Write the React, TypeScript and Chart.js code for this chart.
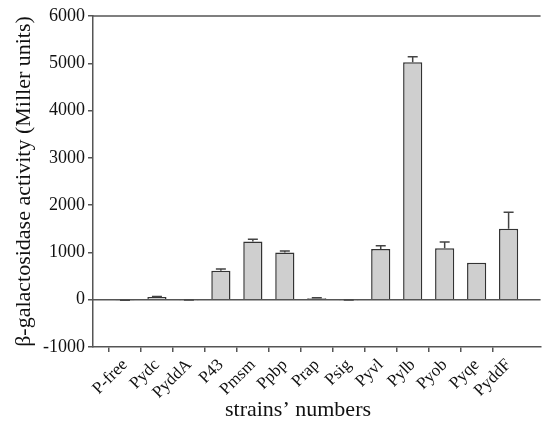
import React, { useEffect, useRef } from "react";
import { Chart, registerables } from "chart.js";
Chart.register(...registerables);

const strains = ["P-free", "Pydc", "PyddA", "P43", "Pmsm", "Ppbp", "Prap", "Psig", "Pyvl", "Pylb", "Pyob", "Pyqe", "PyddF"];
const activity = [-20, 55, -10, 610, 1230, 1000, 30, -10, 1070, 5020, 1090, 780, 1500];
const errors = [10, 15, 5, 40, 50, 30, 10, 5, 70, 120, 130, 0, 350];
const yTickValues = [-1000, 0, 1000, 2000, 3000, 4000, 5000, 6000];
const yTitle = "β-galactosidase activity (Miller units)";
const xTitle = "strains’ numbers";

const labels = ["", ...strains, ""];
const values: (number | null)[] = [null, ...activity, null];
const errs: (number | null)[] = [null, ...errors, null];

const AXIS = "#555";
const FONT = "'Liberation Serif', 'Times New Roman', serif";

const decor = {
  id: "decor",
  beforeDatasetsDraw(chart: any) {
    const { ctx, chartArea, scales } = chart;
    const y = scales.y;
    ctx.save();
    ctx.strokeStyle = AXIS;
    ctx.lineWidth = 1.5;
    ctx.beginPath();
    ctx.moveTo(chartArea.left, chartArea.top);
    ctx.lineTo(chartArea.right, chartArea.top);
    ctx.stroke();
    const y0 = y.getPixelForValue(0);
    ctx.beginPath();
    ctx.moveTo(chartArea.left, y0);
    ctx.lineTo(chartArea.right, y0);
    ctx.stroke();
    ctx.restore();
  },
  afterDatasetsDraw(chart: any) {
    const { ctx, scales } = chart;
    const y = scales.y;
    const meta = chart.getDatasetMeta(0);
    ctx.save();
    ctx.strokeStyle = "#444";
    ctx.lineWidth = 1.5;
    meta.data.forEach((bar: any, i: number) => {
      const v = values[i];
      const e = errs[i];
      if (v == null || !e) return;
      const yTop = y.getPixelForValue(v);
      const yErr = y.getPixelForValue(v + e);
      ctx.beginPath();
      ctx.moveTo(bar.x, yTop);
      ctx.lineTo(bar.x, yErr);
      ctx.moveTo(bar.x - 5, yErr);
      ctx.lineTo(bar.x + 5, yErr);
      ctx.stroke();
    });
    ctx.fillStyle = "#111";
    ctx.font = `22px ${FONT}`;
    ctx.textAlign = "center";
    ctx.textBaseline = "middle";
    ctx.fillText(xTitle, 298, 410);
    ctx.restore();
  },
};

export default function App() {
  const ref = useRef<HTMLCanvasElement>(null);
  useEffect(() => {
    if (!ref.current) return;
    const chart = new Chart(ref.current, {
      type: "bar",
      data: {
        labels,
        datasets: [
          {
            data: values,
            backgroundColor: "#cfcfcf",
            borderColor: "#333",
            borderWidth: 1.5,
            barPercentage: 0.6,
            categoryPercentage: 1,
          },
        ],
      },
      options: {
        responsive: false,
        animation: false,
        layout: { padding: { top: 16, right: 4, left: 0, bottom: 0 } },
        plugins: { legend: { display: false }, tooltip: { enabled: false } },
        scales: {
          x: {
            offset: false,
            afterFit: (s: any) => {
              s.height = 75;
            },
            grid: {
              drawOnChartArea: false,
              tickLength: 5,
              lineWidth: 1.5,
              tickColor: (c: any) => (c.index === 0 || c.index === labels.length - 1 ? "rgba(0,0,0,0)" : AXIS),
            },
            border: { display: true, color: AXIS, width: 1.5 },
            ticks: {
              autoSkip: false,
              minRotation: 45,
              maxRotation: 45,
              padding: 3,
              color: "#111",
              font: { family: FONT, size: 17 },
            },
          },
          y: {
            min: -1000,
            max: 6000,
            afterFit: (s: any) => {
              s.width = 93;
            },
            afterBuildTicks: (s: any) => {
              s.ticks = yTickValues.map((v) => ({ value: v }));
            },
            grid: { drawOnChartArea: false, tickLength: 5, lineWidth: 1.5, tickColor: AXIS },
            border: { display: true, color: AXIS, width: 1.5 },
            ticks: {
              padding: 3,
              color: "#111",
              font: { family: FONT, size: 18 },
              callback: (v: any) => String(v),
            },
            title: {
              display: true,
              text: yTitle,
              color: "#111",
              font: { family: FONT, size: 22 },
              padding: { top: 11, bottom: 0 },
            },
          },
        },
      },
      plugins: [decor],
    });
    return () => chart.destroy();
  }, []);
  return (
    <div style={{ position: "absolute", left: 0, top: 0, width: 550, height: 422, overflow: "hidden", background: "#fff" }}>
      <canvas ref={ref} width={558} height={422} style={{ display: "block", width: 558, height: 422 }} />
    </div>
  );
}
